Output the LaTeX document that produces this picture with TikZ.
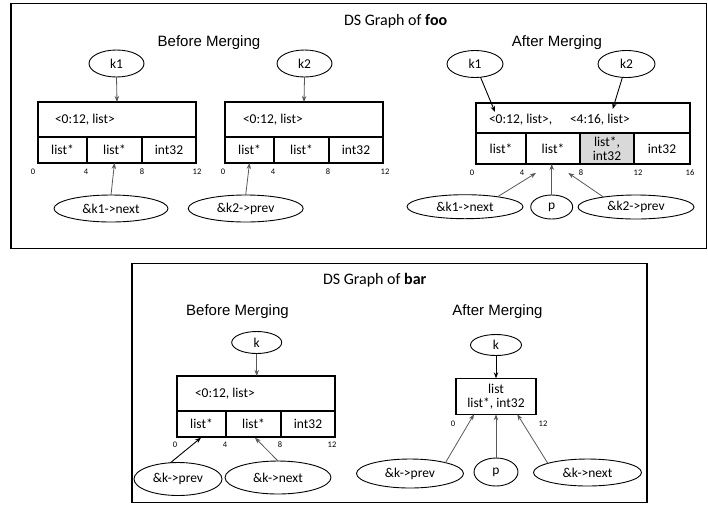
\documentclass[tikz,border=0pt]{standalone}
\usepackage{fontspec}
\setmainfont{Carlito}
\newfontfamily\arialfont{Liberation Sans}
\usetikzlibrary{shapes.geometric,arrows.meta,calc}

\begin{document}
\begin{tikzpicture}[x=1pt,y=-1pt,
  every node/.style={inner sep=0pt, outer sep=0pt, font=\fontsize{13.5}{15}\selectfont},
  frame/.style={rectangle, draw, line width=1.3pt, anchor=north west},
  hdrbox/.style={rectangle, draw, line width=1.3pt, anchor=north west},
  slot/.style={rectangle, draw, line width=1.3pt, anchor=north west, minimum height=26pt, align=center},
  oval/.style={ellipse, draw, line width=0.9pt},
  off/.style={font=\fontsize{8.5}{9}\selectfont},
  heading/.style={font=\arialfont\fontsize{15}{17}\selectfont},
  title/.style={anchor=west, font=\fontsize{16}{18}\selectfont},
  ptr/.style={-{Stealth[length=6pt,width=4.5pt]}, line width=0.8pt, draw=black!65},
  ptrk/.style={-{Stealth[length=6pt,width=4.5pt]}, line width=0.9pt, draw=black},
]
\useasboundingbox (0,0) rectangle (708,504);

% ---------------- foo ----------------
\node[frame, minimum width=695.7pt, minimum height=244.8pt] (fooframe) at (11,3.5) {};
\node[title] (footitle) at (344,21.7) {DS Graph of \textbf{foo}};
\node[heading] (foobefore) at (209,43) {Before Merging};
\node[heading] (fooafter) at (557,43) {After Merging};

% struct pointed to by k1
\node[hdrbox, minimum width=158pt, minimum height=35pt] (a1h) at (38,102) {};
\node[anchor=west] (a1t) at ($(a1h.west)+(17,0)$) {<0:12, list>};
\node[slot, minimum width=49pt] (a1c1) at (38,137) {list*};
\node[slot, minimum width=55pt] (a1c2) at (87,137) {list*};
\node[slot, minimum width=54pt] (a1c3) at (142,137) {int32};
\node[off] (a1o0) at (33,172) {0};
\node[off] (a1o4) at (86,172) {4};
\node[off] (a1o8) at (142,172) {8};
\node[off] (a1o12) at (197,172) {12};

% struct pointed to by k2
\node[hdrbox, minimum width=158pt, minimum height=35pt] (a2h) at (225,102) {};
\node[anchor=west] (a2t) at ($(a2h.west)+(18,0)$) {<0:12, list>};
\node[slot, minimum width=49pt] (a2c1) at (225,137) {list*};
\node[slot, minimum width=55pt] (a2c2) at (274,137) {list*};
\node[slot, minimum width=54pt] (a2c3) at (329,137) {int32};
\node[off] (a2o0) at (223,172) {0};
\node[off] (a2o4) at (273,172) {4};
\node[off] (a2o8) at (328,172) {8};
\node[off] (a2o12) at (385,172) {12};

\node[oval, minimum width=55pt, minimum height=27pt] (k1a) at (116.5,63.5) {k1};
\node[oval, minimum width=55pt, minimum height=27pt] (k2a) at (304.5,63.5) {k2};
\node[oval, minimum width=114pt, minimum height=27pt] (k1na) at (111,208.5) {\&k1->next};
\node[oval, minimum width=115pt, minimum height=27pt] (k2pa) at (245.7,208.5) {\&k2->prev};

\draw[ptr] (k1a.south) -- (a1h.north);
\draw[ptr] (k2a.south) -- (a2h.north);
\draw[ptr] (k1na.north) -- (a1c2.south);
\draw[ptr] (k2pa.north) -- (a2c1.south);

% merged struct
\node[hdrbox, minimum width=214pt, minimum height=30pt] (mh) at (476,103) {};
\node[anchor=west] (mt1) at ($(mh.west)+(13,2)$) {<0:12, list>,};
\node[anchor=west] (mt2) at ($(mh.west)+(94,2)$) {<4:16, list>};
\node[slot, minimum width=50pt, minimum height=31pt] (mc1) at (476,133) {list*};
\node[slot, minimum width=54pt, minimum height=31pt] (mc2) at (526,133) {list*};
\node[slot, minimum width=54pt, minimum height=31pt, fill=black!15] (mc3) at (580,133) {list*,\\[-1pt]int32};
\node[slot, minimum width=56pt, minimum height=31pt] (mc4) at (634,133) {int32};
\node[off] (mo0) at (472,173) {0};
\node[off] (mo4) at (522,173) {4};
\node[off] (mo8) at (581,173) {8};
\node[off] (mo12) at (638,173) {12};
\node[off] (mo16) at (690,173) {16};

\node[oval, minimum width=56pt, minimum height=27pt] (k1b) at (475,64) {k1};
\node[oval, minimum width=57pt, minimum height=27pt] (k2b) at (626.5,64) {k2};
\node[oval, minimum width=116pt, minimum height=24pt] (k1nb) at (465,206.7) {\&k1->next};
\node[oval, minimum width=42pt, minimum height=24pt] (pb) at (551.7,207) {p};
\node[oval, minimum width=116pt, minimum height=24pt] (k2pb) at (636,207) {\&k2->prev};

\coordinate (mk1) at (495,112);
\coordinate (mk2) at (612.7,109);
\coordinate (mn) at (536,173);
\coordinate (mp) at (568.3,173);
\draw[ptrk] (k1b) -- (mk1);
\draw[ptrk] (k2b) -- (mk2);
\draw[ptr] (k1nb.17) -- (mn);
\draw[ptr] (pb.north) -- (pb.north |- mc2.south);
\draw[ptr] (k2pb.163) -- (mp);

% ---------------- bar ----------------
\node[frame, minimum width=515pt, minimum height=239pt] (barframe) at (132,263.3) {};
\node[title] (bartitle) at (323,280) {DS Graph of \textbf{bar}};
\node[heading] (barbefore) at (237.5,311.7) {Before Merging};
\node[heading] (barafter) at (497.5,311.7) {After Merging};

% struct pointed to by k
\node[hdrbox, minimum width=158pt, minimum height=35pt] (bh) at (177,376) {};
\node[anchor=west] (bt) at ($(bh.west)+(18,0)$) {<0:12, list>};
\node[slot, minimum width=49pt] (bc1) at (177,411) {list*};
\node[slot, minimum width=55pt] (bc2) at (226,411) {list*};
\node[slot, minimum width=54pt] (bc3) at (281,411) {int32};
\node[off] (bo0) at (175,445) {0};
\node[off] (bo4) at (225,445) {4};
\node[off] (bo8) at (280,445) {8};
\node[off] (bo12) at (332,445) {12};

\node[oval, minimum width=50pt, minimum height=22pt] (ka) at (256.7,342.5) {k};
\node[oval, minimum width=88pt, minimum height=33pt] (kpa) at (178,479) {\&k->prev};
\node[oval, minimum width=106pt, minimum height=33pt] (kna) at (278,477.5) {\&k->next};

\coordinate (bp) at (201,437.7);
\coordinate (bn) at (255,437.7);
\draw[ptr] (ka.south) -- (ka.south |- bh.north);
\draw[ptrk] (kpa.115) -- (bp);
\draw[ptr] (kna.north) -- (bn);

% merged struct
\node[rectangle, draw, line width=1.3pt, minimum width=80pt, minimum height=36pt, align=center] (mb) at (496,396.3) {list\\[-1pt]list*, int32};
\node[off] (mbo0) at (453,423.3) {0};
\node[off] (mbo12) at (543,423.3) {12};

\node[oval, minimum width=51pt, minimum height=21pt] (kb) at (496,345) {k};
\node[oval, minimum width=107pt, minimum height=29pt] (kpb) at (410,473.5) {\&k->prev};
\node[oval, minimum width=44pt, minimum height=28pt] (pbb) at (496,472) {p};
\node[oval, minimum width=108pt, minimum height=27pt] (knb) at (587.5,472.5) {\&k->next};

\coordinate (mbp) at (474,414.3);
\coordinate (mbn) at (517.3,414.3);
\draw[ptrk] (kb.south) -- (mb.north);
\draw[ptr] (kpb.17) -- (mbp);
\draw[ptr] (pbb.north) -- (mb.south);
\draw[ptr] (knb.167) -- (mbn);
\end{tikzpicture}
\end{document}
